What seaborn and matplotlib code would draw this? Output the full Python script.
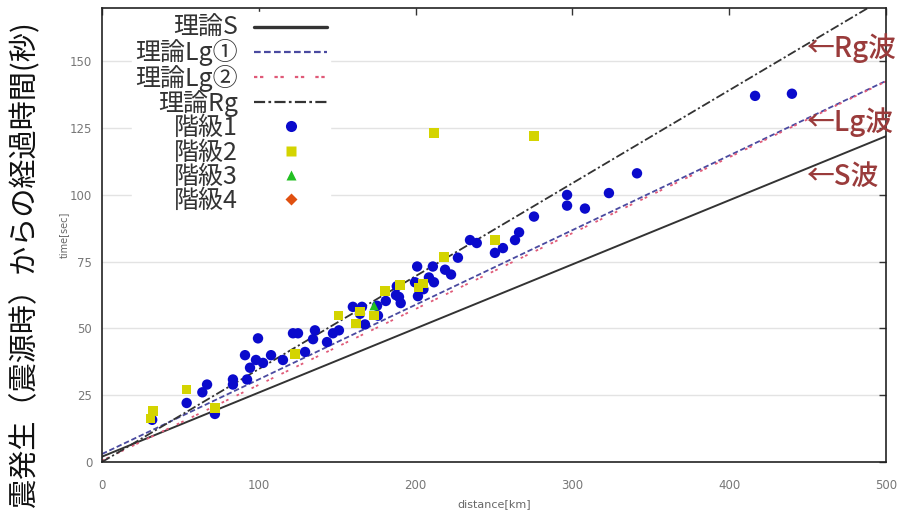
import matplotlib
matplotlib.use("Agg")
import matplotlib.pyplot as plt
import seaborn as sns
import pandas as pd
from matplotlib.lines import Line2D

# ---------------- data ----------------
line_dist = [0, 500]
S_time = [2.0, 122.0]
Lg1_time = [3.0, 142.7]
Lg2_time = [0.5, 142.5]
Rg_time = [0.0, 174.0]

c1_dist = [32, 54, 64, 67, 72, 83.5, 83.5, 92.5, 94.4, 98.2, 102.7, 91.2, 99.5, 107.8,
           115.4, 121.8, 125, 129.5, 134.6, 135.8, 143.5, 147.3, 151.1, 160, 165.8, 164.5,
           167.7, 176, 175.4, 181, 188, 189.4, 190.5, 187.5,
           201, 199.6, 201.5, 208.5, 211, 211.7, 218.8, 222.6, 227, 234.7, 239, 250.6,
           255.7, 263.4, 266, 275.5, 205, 296.6, 296.6, 308, 323.3, 341.2, 416.5, 440]
c1_time = [15.8, 22.1, 26.1, 29, 18, 30.9, 29, 30.9, 35.3, 38.2, 37.1, 40, 46.3, 40,
           38.2, 48.2, 48.2, 41.2, 46, 49.3, 44.9, 48.2, 49.3, 58.1, 58.1, 55.5,
           51.5, 54.8, 58.5, 60.3, 65.8, 61.8, 59.5, 62.5,
           73.2, 67.3, 62.1, 69.1, 73.2, 67.3, 72, 70.2, 76.5, 83.1, 82, 78.3,
           80.1, 83.1, 86, 91.9, 64.7, 100, 96, 94.9, 100.7, 108.1, 137.1, 137.9]

c2_dist = [32.5, 31, 54, 72, 123, 151, 162, 164.5, 173.5, 180.5, 190, 202, 204.7, 218,
           250.6, 211.7, 275.5]
c2_time = [19.1, 16.2, 27.2, 20.2, 40.4, 54.8, 51.8, 56.3, 54.8, 64, 66.2, 65.4, 66.9, 76.8,
           83.1, 123.2, 122]

c3_dist = [173.5]
c3_time = [58.5]

c4_dist = []
c4_time = []

legend_labels = ["理論S", "理論Lg①", "理論Lg②", "理論Rg", "階級1", "階級2", "階級3", "階級4"]
wave_labels = ["←Rg波", "←Lg波", "←S波"]
x_ticks = [0, 100, 200, 300, 400, 500]
y_ticks = [0, 25, 50, 75, 100, 125, 150]

# ---------------- style ----------------
sns.set_theme(style="white")
plt.rcParams['font.family'] = ['Noto Sans CJK JP', 'DejaVu Sans']

fig = plt.figure(figsize=(8.99, 5.13), dpi=100)
ax = fig.add_axes([102/899, 1-462/513, (886-102)/899, (462-8)/513])

for y in y_ticks[1:]:
    ax.axhline(y, color='#e3e3e3', lw=1.0, zorder=0)

lines_df = pd.DataFrame({"d": line_dist, "S": S_time, "Lg1": Lg1_time,
                         "Lg2": Lg2_time, "Rg": Rg_time})
sns.lineplot(data=lines_df, x="d", y="S", ax=ax, color='#333333', lw=1.4, zorder=2)
sns.lineplot(data=lines_df, x="d", y="Lg1", ax=ax, color='#4a4aa0', lw=1.3,
             zorder=2).lines[-1].set_dashes([3, 1.5])
sns.lineplot(data=lines_df, x="d", y="Lg2", ax=ax, color='#e05a78', lw=1.3,
             zorder=2).lines[-1].set_dashes([1.5, 1.2, 1.5, 5])
sns.lineplot(data=lines_df, x="d", y="Rg", ax=ax, color='#333333', lw=1.3,
             zorder=2).lines[-1].set_dashes([5, 1.5, 1.2, 1.5])

sns.scatterplot(x=c1_dist, y=c1_time, ax=ax, color='#0a0acc', s=56, marker='o',
                edgecolor='none', zorder=3)
sns.scatterplot(x=c2_dist, y=c2_time, ax=ax, color='#d4d400', s=46, marker='s',
                edgecolor='none', zorder=4)
sns.scatterplot(x=c3_dist, y=c3_time, ax=ax, color='#22c022', s=44, marker='^',
                edgecolor='none', zorder=4)

ax.set_xlim(0, 500)
ax.set_ylim(0, 170)
ax.set_xticks(x_ticks)
ax.set_yticks(y_ticks)
ax.tick_params(direction='in', length=5, width=1, colors='#333333', labelcolor='#777777',
               labelsize=8.5, top=True, right=True)
ax.tick_params(axis='x', pad=12)
ax.tick_params(axis='y', pad=7)
for sp in ax.spines.values():
    sp.set_color('#222222')
    sp.set_linewidth(1.2)
    sp.set_visible(True)
for lab in ax.get_xticklabels() + ax.get_yticklabels():
    lab.set_family(['DejaVu Sans'])

ax.set_xlabel("distance[km]", fontsize=8, color='#666666', labelpad=5, family=['DejaVu Sans'])
ax.set_ylabel("time[sec]", fontsize=7, color='#666666', labelpad=1, family=['DejaVu Sans'])

handles = [
    Line2D([], [], color='#333333', lw=2.4),
    Line2D([], [], color='#4a4aa0', lw=1.6, dashes=[3, 1.5]),
    Line2D([], [], color='#e05a78', lw=1.6, dashes=[1.5, 1.2, 1.5, 5]),
    Line2D([], [], color='#333333', lw=1.6, dashes=[5, 1.5, 1.2, 1.5]),
    Line2D([], [], color='#0a0acc', marker='o', ls='none', ms=8, mec='none'),
    Line2D([], [], color='#d4d400', marker='s', ls='none', ms=7, mec='none'),
    Line2D([], [], color='#22c022', marker='^', ls='none', ms=7, mec='none'),
    Line2D([], [], color='#e05010', marker='D', ls='none', ms=6.5, mec='none'),
]
leg = ax.legend(handles, legend_labels, loc='upper right',
                bbox_to_anchor=((330 - 102) / 784, 1.0 - 4 / 454),
                markerfirst=False, frameon=True, facecolor='white', edgecolor='white',
                framealpha=1.0, handlelength=2.9, labelspacing=-0.07,
                borderpad=0.13, handletextpad=0.64, borderaxespad=0.0,
                prop={'family': ['Noto Sans CJK JP', 'DejaVu Sans'], 'size': 18})
for t in leg.get_texts():
    t.set_color('#333333')
    t.set_ha('right')
leg.set_zorder(5)

wave_y = [48, 122, 176]
for lab, yy in zip(wave_labels, wave_y):
    fig.text(806/899, 1 - yy/513, lab, color='#9a3b3b', fontsize=20, fontweight='medium',
             va='center', ha='left')

fig.text(25/899, 1 - 264/513, "震発生（震源時）からの経過時間(秒)", rotation=90, fontsize=21,
         va='center', ha='center', color='#111111')

fig.savefig("out.png", dpi=100)
